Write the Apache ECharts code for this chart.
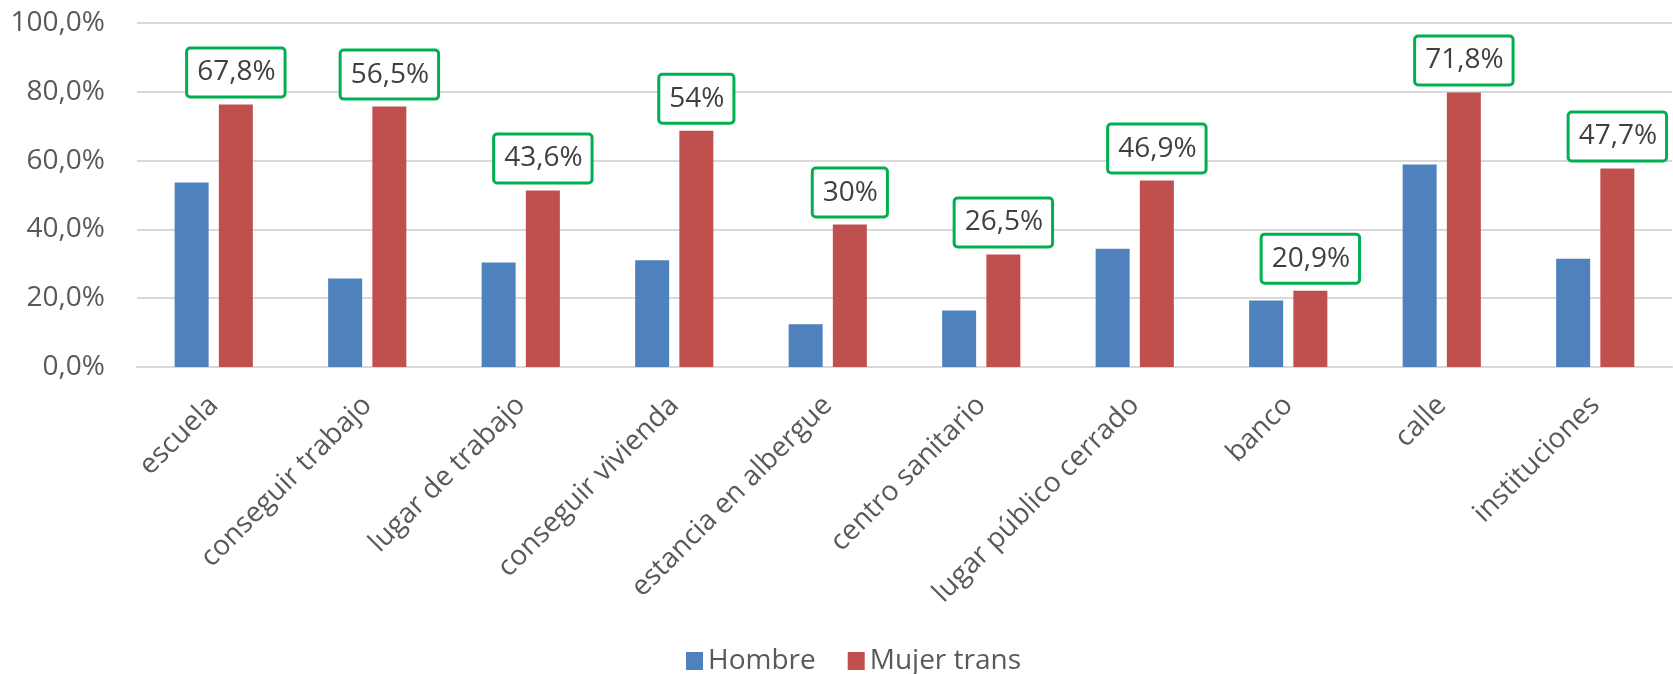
<!DOCTYPE html>
<html>
<head>
<meta charset="utf-8">
<script src="https://cdn.jsdelivr.net/npm/echarts@6/dist/echarts.min.js"></script>
<style>
  html, body { margin: 0; padding: 0; background: #fff; }
  #charts { width: 1673px; height: 674px; }
</style>
</head>
<body>
<div id="charts"></div>
<script>
var categorias = ['escuela', 'conseguir trabajo', 'lugar de trabajo', 'conseguir vivienda', 'estancia en albergue',
  'centro sanitario', 'lugar público cerrado', 'banco', 'calle', 'instituciones'];
var hombre = [53.6, 25.7, 30.4, 31.0, 12.4, 16.4, 34.4, 19.3, 58.9, 31.5];
var mujerTrans = [76.3, 75.7, 51.3, 68.7, 41.4, 32.7, 54.2, 22.2, 79.8, 57.7];
// etiquetas de los recuadros verdes (no coinciden con la altura de la barra)
var etiquetas = ['67,8%', '56,5%', '43,6%', '54%', '30%', '26,5%', '46,9%', '20,9%', '71,8%', '47,7%'];
var yTicks = [0, 20, 40, 60, 80, 100];

var fuente = 'Open Sans';

var option = {
  animation: false,
  grid: {
    left: 137,
    right: 1,
    top: 23,
    bottom: 307
  },
  legend: {
    data: ['Hombre', 'Mujer trans'],
    left: 686,
    top: 647,
    padding: 0,
    icon: 'rect',
    itemWidth: 17,
    itemHeight: 18,
    itemGap: 32,
    textStyle: { fontFamily: fuente, fontSize: 28, color: '#595959', lineHeight: 28 }
  },
  xAxis: {
    type: 'category',
    data: categorias,
    axisTick: { show: false },
    axisLine: { lineStyle: { color: '#d9d9d9', width: 2 } },
    axisLabel: {
      interval: 0,
      rotate: 45,
      margin: 34,
      fontFamily: fuente,
      fontSize: 28,
      color: '#595959'
    }
  },
  yAxis: {
    type: 'value',
    min: yTicks[0],
    max: yTicks[yTicks.length - 1],
    interval: 20,
    axisLine: { show: false },
    axisTick: { show: false },
    splitLine: { lineStyle: { color: '#d9d9d9', width: 2 } },
    axisLabel: {
      margin: 32,
      fontFamily: fuente,
      fontSize: 28,
      color: '#595959',
      formatter: function (v) { return v.toFixed(1).replace('.', ',') + '%'; }
    }
  },
  series: [
    {
      name: 'Hombre',
      type: 'bar',
      data: hombre,
      barWidth: 34,
      barGap: '30%',
      itemStyle: { color: '#4f81bd' }
    },
    {
      name: 'Mujer trans',
      type: 'bar',
      data: mujerTrans,
      barWidth: 34,
      barGap: '30%',
      itemStyle: { color: '#c0504d' },
      label: {
        show: true,
        position: 'top',
        distance: 9,
        fontFamily: fuente,
        fontSize: 28,
        lineHeight: 30,
        color: '#404040',
        padding: [8, 8, 8, 9],
        borderColor: '#00b050',
        borderWidth: 3,
        borderRadius: 2,
        backgroundColor: '#fff',
        formatter: function (p) { return etiquetas[p.dataIndex]; }
      }
    }
  ]
};

var myChart = echarts.init(document.getElementById('charts'));
myChart.setOption(option);
</script>
</body>
</html>
